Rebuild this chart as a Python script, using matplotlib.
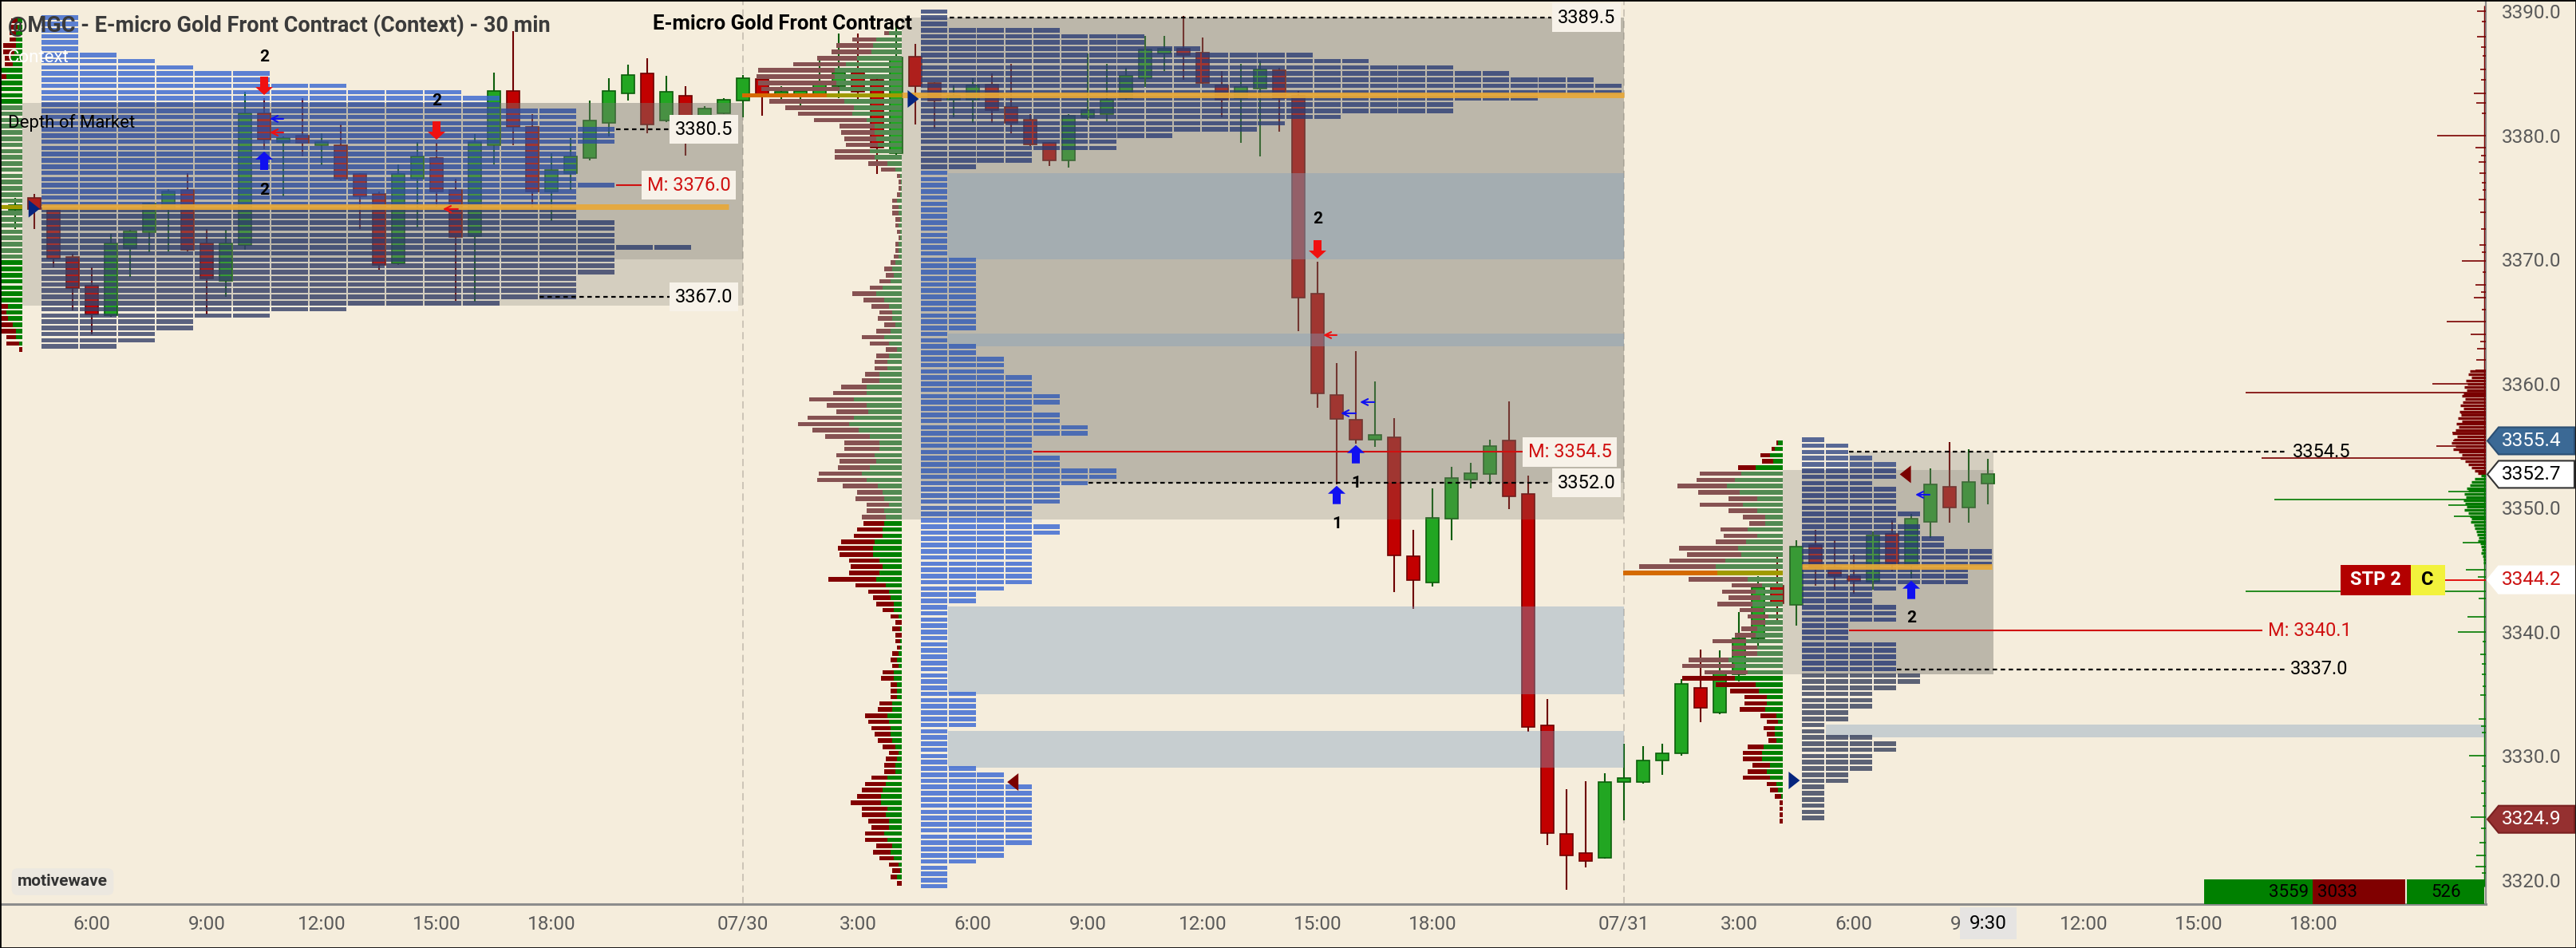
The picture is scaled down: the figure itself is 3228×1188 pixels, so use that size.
import matplotlib
matplotlib.use("Agg")
import matplotlib.pyplot as plt
from matplotlib.patches import Rectangle, Polygon

plt.rcParams["font.family"] = ["Roboto", "DejaVu Sans"]

# --------------------
# Candles (30 min bars, index 0 = 07/30 00:00)
# --------------------
bar_index = list(range(-38, 66))
opens = [3374.0, 3375.0, 3374.0, 3370.2, 3367.9, 3365.5, 3370.9, 3372.2, 3374.1, 3375.6,
         3371.3, 3368.3, 3371.2, 3381.8, 3379.5, 3380.0, 3379.2, 3379.2, 3376.9, 3375.3,
         3369.7, 3376.5, 3378.2, 3375.6, 3371.9, 3379.2, 3383.6, 3380.7, 3375.5, 3377.0,
         3378.2, 3381.0, 3383.4, 3385.0, 3381.2, 3383.2, 3381.5, 3381.8,
         3382.8, 3384.55, 3383.3, 3383.2, 3383.3, 3384.0, 3385.1, 3384.5, 3378.6, 3386.35,
         3384.27, 3382.89, 3382.89, 3384.09, 3382.32, 3381.31, 3379.44, 3378.01, 3381.45, 3381.74,
         3383.03, 3384.61, 3386.62, 3386.99, 3386.68, 3384.04, 3383.03, 3383.81, 3385.27, 3383.18,
         3367.24, 3359.12, 3357.10, 3355.47, 3355.67, 3346.12, 3344.0, 3349.15, 3352.3, 3352.7,
         3355.4, 3351.1, 3332.5, 3323.7, 3322.2, 3321.8, 3327.9, 3327.9, 3329.66, 3330.2,
         3335.5, 3333.5, 3336.6, 3339.5, 3343.7, 3342.15, 3347.0, 3345.2, 3344.5, 3344.07,
         3347.9, 3345.3, 3348.9, 3351.7, 3350.03, 3351.94]
highs = [3375.0, 3375.3, 3374.1, 3370.5, 3369.4, 3372.1, 3372.4, 3374.6, 3375.7, 3377.0,
         3372.5, 3372.4, 3383.5, 3383.0, 3379.9, 3383.0, 3380.2, 3380.9, 3377.0, 3375.5,
         3377.7, 3379.5, 3379.4, 3376.5, 3380.1, 3385.1, 3388.4, 3381.7, 3378.6, 3379.8,
         3382.8, 3384.6, 3385.7, 3386.2, 3384.8, 3384.0, 3382.4, 3383.0,
         3384.9, 3384.7, 3384.0, 3383.6, 3386.2, 3388.2, 3388.2, 3384.6, 3389.0, 3387.4,
         3384.3, 3384.04, 3384.61, 3385.04, 3385.76, 3381.74, 3379.5, 3381.74, 3386.62, 3385.76,
         3385.47, 3388.06, 3388.06, 3389.63, 3387.91, 3385.18, 3385.76, 3386.05, 3385.47, 3383.61,
         3369.83, 3361.64, 3362.65, 3360.21, 3357.2, 3348.2, 3351.6, 3353.3, 3353.6, 3355.5,
         3358.6, 3352.6, 3334.6, 3327.3, 3328.0, 3328.6, 3331.0, 3330.8, 3331.0, 3336.2,
         3338.6, 3338.5, 3341.6, 3344.5, 3346.2, 3347.4, 3348.2, 3347.4, 3346.25, 3348.07,
         3348.97, 3349.5, 3353.2, 3355.33, 3354.7, 3353.97]
lows = [3372.5, 3372.5, 3369.4, 3365.9, 3364.0, 3365.4, 3368.6, 3370.6, 3370.7, 3370.7,
        3365.6, 3367.0, 3370.8, 3378.9, 3375.1, 3378.3, 3377.6, 3376.4, 3372.5, 3369.2,
        3369.6, 3372.6, 3374.3, 3366.7, 3366.6, 3377.7, 3379.2, 3374.2, 3373.1, 3375.6,
        3378.0, 3379.9, 3382.8, 3380.2, 3381.1, 3378.4, 3381.3, 3381.7,
        3381.5, 3381.6, 3382.6, 3382.1, 3383.2, 3383.0, 3382.6, 3376.9, 3378.4, 3380.9,
        3380.6, 3381.45, 3381.02, 3381.02, 3380.16, 3379.16, 3377.58, 3377.43, 3381.31, 3381.16,
        3382.89, 3383.89, 3385.18, 3384.47, 3384.18, 3381.45, 3379.44, 3378.30, 3380.30, 3364.23,
        3358.05, 3351.88, 3355.18, 3354.89, 3343.18, 3341.86, 3343.66, 3347.4, 3351.6, 3351.9,
        3349.9, 3331.97, 3322.8, 3319.2, 3321.0, 3321.7, 3324.8, 3327.8, 3328.5, 3330.0,
        3332.7, 3333.4, 3336.0, 3338.8, 3340.9, 3340.5, 3343.7, 3343.4, 3343.1, 3343.4,
        3344.9, 3344.3, 3347.6, 3348.8, 3348.8, 3350.3]
closes = [3374.4, 3374.1, 3370.1, 3367.7, 3365.6, 3371.3, 3372.3, 3374.5, 3375.5, 3370.8,
          3368.5, 3371.3, 3381.8, 3379.7, 3379.8, 3379.4, 3379.5, 3376.5, 3375.1, 3369.6,
          3376.9, 3378.3, 3375.5, 3371.8, 3379.5, 3383.6, 3380.7, 3375.5, 3377.2, 3378.3,
          3381.2, 3383.6, 3384.9, 3380.9, 3383.5, 3381.5, 3382.2, 3382.9,
          3384.6, 3383.3, 3383.5, 3383.6, 3384.2, 3385.1, 3383.5, 3379.0, 3386.3, 3384.0,
          3382.83, 3383.18, 3384.04, 3382.03, 3381.02, 3379.30, 3378.01, 3381.59, 3382.03, 3382.89,
          3384.81, 3386.96, 3386.99, 3386.48, 3384.27, 3382.89, 3383.89, 3385.33, 3383.03, 3366.95,
          3359.20, 3357.19, 3355.47, 3355.85, 3346.19, 3344.19, 3349.2, 3352.4, 3352.8, 3355.0,
          3350.9, 3332.34, 3323.8, 3322.0, 3321.55, 3327.9, 3328.2, 3329.65, 3330.2, 3335.8,
          3333.9, 3336.65, 3339.5, 3343.6, 3342.3, 3346.9, 3345.2, 3344.5, 3344.1, 3347.8,
          3345.5, 3349.1, 3351.9, 3350.03, 3352.1, 3352.7]

# --------------------
# Volume profiles (bar length in px, green part in px), rows every 0.5
# --------------------
prof29_top = 3389.25
prof29_total = [14, 16, 16, 16, 24, 24, 22, 22, 30, 26,
                40, 42, 44, 46, 42, 40, 44, 48, 46, 44,
                42, 44, 46, 48, 46, 44, 42, 46, 48, 50,
                52, 48, 46, 44, 42, 40, 42, 44, 46, 42,
                40, 38, 40, 42, 40, 38, 40, 40, 40, 40,
                30, 20, 20, 4]
prof29_green = [6, 6, 8, 8, 8, 10, 14, 12, 26, 20,
                30, 32, 32, 34, 32, 30, 32, 34, 34, 32,
                30, 32, 34, 34, 32, 32, 30, 32, 34, 36,
                36, 34, 32, 32, 30, 30, 30, 32, 32, 30,
                30, 30, 30, 30, 30, 29, 18, 20, 18, 12,
                8, 8, 4, 0]

prof30_top = 3388.25
prof30_total = [22, 62, 82, 88, 106, 136, 180, 182, 180, 176,
                200, 166, 146, 130, 110, 78, 76, 72, 70, 84,
                84, 42, 26, 6, 4, 4, 6, 12, 12, 12,
                8, 8, 6, 4, 8, 8, 10, 14, 22, 20,
                28, 40, 62, 48, 38, 28, 30, 22, 32, 50,
                40, 20, 32, 34, 34, 46, 50, 76, 86, 116,
                94, 82, 118, 130, 112, 96, 72, 72, 82, 78,
                80, 104, 106, 74, 56, 58, 44, 44, 50, 48,
                56, 60, 76, 80, 78, 66, 64, 66, 92, 58,
                42, 36, 32, 24, 14, 8, 12, 8, 8, 6,
                12, 14, 12, 24, 26, 14, 14, 14, 28, 30,
                46, 42, 38, 34, 30, 24, 16, 20, 22, 22,
                38, 46, 50, 56, 64, 50, 50, 42, 38, 46,
                46, 32, 36, 28, 16, 12, 14, 6]
prof30_green = [16, 32, 36, 38, 56, 70, 84, 84, 82, 78,
                94, 72, 60, 62, 44, 34, 34, 32, 30, 40,
                34, 18, 8, 2, 1, 1, 2, 6, 4, 4,
                2, 4, 2, 2, 4, 4, 4, 8, 12, 10,
                14, 24, 32, 22, 16, 12, 12, 8, 14, 22,
                16, 6, 16, 18, 18, 28, 28, 44, 44, 60,
                44, 42, 60, 66, 54, 40, 28, 28, 34, 32,
                40, 50, 44, 30, 24, 22, 16, 22, 20, 22,
                24, 24, 34, 36, 36, 28, 24, 28, 32, 20,
                16, 14, 10, 10, 4, 0, 2, 0, 2, 2,
                4, 6, 4, 10, 10, 6, 6, 6, 12, 12,
                18, 16, 14, 14, 12, 8, 4, 6, 8, 8,
                18, 20, 24, 26, 26, 18, 20, 16, 16, 22,
                18, 12, 14, 10, 4, 2, 6, 0]

prof31_top = 3355.25
prof31_total = [8, 14, 28, 26, 56, 104, 108, 132, 106, 68,
                104, 68, 50, 42, 78, 74, 84, 130, 120, 142,
                180, 200, 118, 64, 76, 68, 82, 54, 44, 40,
                52, 60, 88, 64, 64, 118, 126, 98, 126, 84,
                66, 48, 48, 54, 28, 20, 24, 20, 18, 44,
                50, 50, 38, 44, 50, 20, 16, 10, 4, 4,
                4, 4]
prof31_green = [6, 10, 16, 12, 34, 52, 60, 70, 54, 32,
                50, 32, 22, 22, 44, 32, 46, 56, 52, 72,
                84, 82, 44, 26, 34, 28, 38, 24, 18, 22,
                32, 34, 46, 32, 32, 68, 60, 44, 60, 34,
                30, 20, 20, 22, 8, 6, 10, 10, 8, 24,
                26, 26, 16, 20, 16, 8, 6, 2, 0, 0,
                0, 0]

poc_prices = [3374.25, 3383.25, 3344.75]

# --------------------
# Depth of market blocks per row (number of segments), rows every 0.5
# --------------------
dom29_top = 3389.5
dom29 = [1, 1, 1, 1, 1, 1, 2, 3, 4, 6, 6, 8, 11, 12, 12, 14, 14, 14, 15, 15,
         15, 14, 14, 14, 14, 14, 14, 15, 14, 14, 14, 14, 14, 15, 15, 15, 15, 17, 15, 15,
         15, 15, 14, 14, 14, 14, 12, 8, 6, 4, 4, 3, 3, 2]
dom30_top = 3390.0
dom30 = [1, 1, 1, 5, 8, 8, 10, 14, 16, 19, 21, 24, 25, 25, 22, 19, 19, 15, 13, 12,
         9, 7, 7, 4, 4, 2, 1, 1, 1, 1, 1, 1, 1, 1, 1, 1, 1, 1, 1, 1,
         2, 2, 2, 2, 2, 2, 2, 2, 2, 2, 2, 2, 1, 1, 2, 2, 3, 3, 3, 4,
         4, 4, 5, 5, 4, 5, 5, 6, 6, 4, 4, 4, 5, 5, 7, 7, 6, 5, 5, 5,
         4, 4, 4, 5, 5, 4, 4, 4, 4, 4, 4, 4, 4, 3, 2, 2, 1, 1, 1, 1,
         1, 1, 1, 1, 1, 1, 1, 1, 1, 1, 2, 2, 2, 2, 2, 2, 1, 1, 1, 1,
         1, 1, 2, 3, 3, 4, 4, 4, 4, 4, 4, 4, 4, 4, 4, 3, 3, 2, 1, 1,
         1, 1]
dom31_top = 3355.5
dom31 = [1, 2, 2, 3, 4, 4, 4, 3, 4, 4, 4, 4, 5, 4, 5, 5, 6, 6, 8, 8,
         8, 7, 7, 7, 4, 3, 3, 4, 4, 4, 2, 2, 2, 4, 4, 4, 4, 4, 5, 5,
         4, 3, 3, 3, 2, 2, 1, 1, 3, 4, 4, 3, 3, 3, 2, 2, 1, 1, 1, 1,
         1, 1]

# --------------------
# Value area / levels
# --------------------
va_levels = [3380.5, 3367.0, 3389.5, 3352.0, 3354.5, 3337.0]
mid_levels = [3376.0, 3354.5, 3340.1]

# --------------------
# Right edge order book (price, length px)
# --------------------
ask_prices = [3390.05, 3389.2, 3388.0, 3387.1, 3386.4, 3385.3, 3384.5, 3383.4, 3382.6, 3381.8,
              3380.0, 3379.0, 3378.4, 3377.9, 3377.0, 3376.2, 3375.6, 3374.85, 3373.8, 3372.5,
              3371.2, 3370.6, 3369.9, 3369.0, 3368.0, 3367.4, 3366.95, 3366.0, 3365.0, 3364.0,
              3363.4, 3362.8, 3361.9, 3361.1, 3360.0, 3359.3, 3357.6, 3356.1, 3355.4, 3355.0, 3354.0]
ask_lens = [11, 5, 11, 6, 4, 7, 6, 15, 12, 5,
            61, 13, 6, 9, 8, 5, 4, 9, 7, 6,
            8, 5, 30, 4, 13, 6, 15, 5, 49, 19,
            7, 11, 12, 13, 67, 301, 31, 42, 41, 62, 281]
ask_cluster_p = [3361.0, 3360.75, 3360.5, 3360.25, 3360.0, 3359.75, 3359.5, 3359.25, 3359.0,
                 3358.75, 3358.5, 3358.25, 3358.0, 3357.75, 3357.5, 3357.25, 3357.0, 3356.75,
                 3356.5, 3356.25, 3356.0, 3355.75, 3355.5, 3355.25, 3355.0, 3354.75, 3354.5,
                 3354.25, 3354.0, 3353.75, 3353.5, 3353.25, 3353.0, 3352.8]
ask_cluster_w = [20, 22, 18, 25, 23, 27, 24, 28, 30, 26,
                 29, 32, 28, 33, 31, 35, 30, 37, 34, 38,
                 42, 36, 40, 43, 38, 41, 34, 30, 32, 26,
                 22, 18, 14, 10]
bid_prices = [3351.3, 3350.7, 3350.2, 3349.3, 3347.2, 3345.0, 3344.4, 3343.3, 3342.7, 3341.2,
              3340.0, 3339.2, 3338.2, 3337.4, 3336.6, 3335.6, 3334.9, 3333.0, 3332.4, 3331.9,
              3330.0, 3329.2, 3328.0, 3327.0, 3326.0, 3325.1, 3324.2, 3323.0, 3322.0, 3321.1, 3320.6]
bid_lens = [47, 265, 47, 40, 29, 25, 10, 301, 9, 23,
            35, 4, 7, 5, 5, 4, 7, 9, 6, 5,
            21, 5, 5, 6, 4, 19, 6, 8, 12, 13, 5]
bid_cluster_p = [3352.6, 3352.35, 3352.1, 3351.85, 3351.6, 3351.35, 3351.1, 3350.85, 3350.6,
                 3350.35, 3350.1, 3349.85, 3349.6, 3349.35, 3349.1, 3348.85, 3348.6, 3348.35,
                 3348.1, 3347.85, 3347.6, 3347.35, 3347.1, 3346.85, 3346.6, 3346.35, 3346.1,
                 3345.85, 3345.6]
bid_cluster_w = [6, 14, 18, 20, 24, 22, 27, 25, 28, 26,
                 24, 27, 22, 20, 18, 19, 15, 14, 12, 11,
                 9, 10, 7, 6, 5, 6, 4, 3, 3]

price_ticks = [3320, 3330, 3340, 3350, 3360, 3370, 3380, 3390]
time_ticks = [-34, -28, -22, -16, -10, 0, 6, 12, 18, 24, 30, 36, 46, 52, 58, 64, 70, 76, 82]
time_labels = ["6:00", "9:00", "12:00", "15:00", "18:00", "07/30", "3:00", "6:00", "9:00",
               "12:00", "15:00", "18:00", "07/31", "3:00", "6:00", "9:00", "12:00", "15:00", "18:00"]

last_price = 3352.7
tag_prices = [3355.4, 3352.7, 3344.2, 3324.9]
volume_boxes = ["3559", "3033", "526"]

# --------------------
# Layout (pixels of the 3228x1188 picture)
# --------------------
W, H = 3228, 1188
BG = "#F5EDDC"
PX_DAY0 = 931
BAR_PX = 24
PANE_R = 3115
PANE_B = 1133
Y0_PX = 14.4
PT_PX = 15.55


def xd(px):
    return (px - PX_DAY0) / BAR_PX


def yd(py):
    return 3390.0 - (py - Y0_PX) / PT_PX


def ypx(price):
    return Y0_PX + (3390.0 - price) * PT_PX


def fx(px):
    return px / W


def fy(py):
    return 1 - py / H


fig = plt.figure(figsize=(W / 100, H / 100), dpi=100, facecolor=BG)
ax = fig.add_axes([0, 1 - PANE_B / H, PANE_R / W, PANE_B / H])
ax.set_facecolor(BG)
ax.set_xlim(xd(0), xd(PANE_R))
ax.set_ylim(yd(PANE_B), yd(0))

# candles
for i, o, h, l, c in zip(bar_index, opens, highs, lows, closes):
    up = c >= o
    edge = "#0B5E0B" if up else "#6E0000"
    face = "#22A622" if up else "#C20000"
    ax.vlines(i, l, h, color=edge, lw=1.5, zorder=2)
    ax.add_patch(Rectangle((i - 0.345, min(o, c)), 0.69, max(abs(c - o), 0.08),
                           facecolor=face, edgecolor=edge, lw=1.2, zorder=2.1))


# value area boxes and bands
def shade(x0, x1, p0, p1, color="#78786E", alpha=0.26, z=3):
    ax.add_patch(Rectangle((xd(x0), p0), (x1 - x0) / BAR_PX, p1 - p0,
                           facecolor=color, alpha=alpha, lw=0, zorder=z))


shade(28, 931, 3366.3, 3382.6)
shade(52, 931, 3370.0, 3382.6)
shade(1130, 2035, 3349.06, 3389.5)
shade(1154, 2035, 3352.0, 3389.5)
shade(2234, 2498, 3336.57, 3353.06)
shade(2258, 2498, 3336.57, 3353.06)
shade(2317, 2498, 3353.06, 3354.5)
band = "#82A0BE"
shade(1188, 2035, 3370.0, 3377.0, band, 0.4)
shade(1188, 2035, 3363.0, 3364.05, band, 0.4)
shade(1188, 2035, 3335.0, 3342.05, band, 0.4)
shade(1188, 2035, 3329.06, 3332.0, band, 0.4)
shade(2288, 3113, 3331.5, 3332.55, band, 0.4)


# depth of market blocks
def draw_dom(x0, stride, seg_w, top, counts, color_of):
    for r, n in enumerate(counts):
        p = top - 0.5 * r
        segs = [(xd(x0 + k * stride), (seg_w) / BAR_PX) for k in range(n)]
        ax.broken_barh(segs, (p - 0.18, 0.36), facecolors=color_of(p),
                       alpha=0.8, lw=0, zorder=4)


def dom29_color(p):
    if p > 3382.6:
        return "#3665D0"
    if p > 3374.25:
        return "#2D4C9E"
    if p >= 3370.0:
        return "#2B3B6B"
    return "#343F68"


def dom30_color(p):
    if p >= 3377.5:
        return "#2B3D75"
    if p >= 3349.06:
        return "#3059B6"
    return "#3665D2"


def dom31_color(p):
    if p > 3353.06:
        return "#314784"
    if p >= 3336.57:
        return "#263875"
    return "#363F5C"


draw_dom(52, 48, 46, dom29_top, dom29, dom29_color)
draw_dom(1154, 35.2, 33.3, dom30_top, dom30, dom30_color)
draw_dom(2258, 30, 28, dom31_top, dom31, dom31_color)


# volume profiles
def draw_profile(right, top, totals, greens, va_lo, va_hi, poc):
    ps, red_l, red_w, grn_l, grn_w, rc, gc = [], [], [], [], [], [], []
    for k, (t, g) in enumerate(zip(totals, greens)):
        p = top - 0.5 * k
        ps.append(p)
        red_l.append(xd(right - t))
        red_w.append((t - g) / BAR_PX)
        grn_l.append(xd(right - g))
        grn_w.append(g / BAR_PX)
        if abs(p - poc) < 0.01:
            rc.append("#D46A00")
            gc.append("#A09A00")
        elif va_lo <= p <= va_hi:
            rc.append("#865252")
            gc.append("#528A52")
        else:
            rc.append("#820000")
            gc.append("#008000")
    ax.barh(ps, red_w, left=red_l, height=0.36, color=rc, lw=0, zorder=4.5)
    ax.barh(ps, grn_w, left=grn_l, height=0.36, color=gc, lw=0, zorder=4.5)


draw_profile(28, prof29_top, prof29_total, prof29_green, 3370.0, 3382.6, poc_prices[0])
draw_profile(1130, prof30_top, prof30_total, prof30_green, 3349.06, 3389.5, poc_prices[1])
draw_profile(2234, prof31_top, prof31_total, prof31_green, 3336.57, 3353.06, poc_prices[2])

# POC lines
ax.hlines(poc_prices[0], xd(52), xd(913), color="#E8A838", lw=5, alpha=0.92, zorder=5)
ax.hlines(poc_prices[1], xd(1130), xd(2035), color="#E8A838", lw=5, alpha=0.92, zorder=5)
ax.hlines(poc_prices[2] + 0.5, xd(2258), xd(2496), color="#E8A838", lw=5, alpha=0.92, zorder=5)

# value area high / low dashed lines with labels
dash_spans = [(772, 839), (676, 839), (1190, 1944), (1364, 1944), (2317, 2865), (2377, 2865)]
label_x = [846, 846, 1952, 1952, 2873, 2870]
boxed = [True, True, True, True, False, False]
for p, (x0, x1), lx, bx in zip(va_levels, dash_spans, label_x, boxed):
    ax.hlines(p, xd(x0), xd(x1), color="black", lw=1.6, linestyles=(0, (2.5, 2)), zorder=5)
    kw = dict(fontsize=17, color="black", va="center", ha="left", zorder=7)
    if bx:
        kw["bbox"] = dict(boxstyle="square,pad=0.28", fc="#F7F2E9", ec="none")
    ax.text(xd(lx), p, f"{p:.1f}", **kw)

mid_spans = [(772, 807), (1295, 1911), (2317, 2835)]
mid_x = [811, 1915, 2842]
mid_boxed = [True, True, False]
for p, (x0, x1), lx, bx in zip(mid_levels, mid_spans, mid_x, mid_boxed):
    ax.hlines(p, xd(x0), xd(x1), color="#D01010", lw=1.5, zorder=5)
    kw = dict(fontsize=17, color="#D01010", va="center", ha="left", zorder=7)
    if bx:
        kw["bbox"] = dict(boxstyle="square,pad=0.28", fc="#F7F2E9", ec="none")
    ax.text(xd(lx), p, f"M: {p:.1f}", **kw)


# signal arrows
def block_arrow(idx, tip, up, color):
    pts_px = [(0, 0), (11, 10), (5, 10), (5, 23), (-5, 23), (-5, 10), (-11, 10)]
    s = 1 if up else -1
    pts = [(idx + dx / BAR_PX, tip - s * dy / PT_PX) for dx, dy in pts_px]
    ax.add_patch(Polygon(pts, closed=True, fc=color, ec="none", zorder=6))


for idx, tip in [(-25, 3383.27), (-16, 3379.67), (30, 3370.09)]:
    block_arrow(idx, tip, False, "#F01010")
for idx, tip in [(-25, 3378.71), (32, 3355.06), (31, 3351.78), (61, 3344.13)]:
    block_arrow(idx, tip, True, "#1010F0")

for idx, p, s in [(-25, 3386.3, "2"), (-25, 3375.6, "2"), (-16, 3382.8, "2"), (30, 3373.3, "2"),
                  (32, 3351.96, "1"), (31, 3348.7, "1"), (61, 3341.1, "2")]:
    ax.text(idx, p, s, fontsize=15, fontweight="bold", color="black",
            ha="center", va="center", zorder=6)

for x_from, x_to, p, col in [(-24.0, -24.71, 3381.35, "#1010F0"), (-24.0, -24.71, 3380.25, "#F01010"),
                             (-14.88, -15.67, 3374.08, "#F01010"), (31.0, 30.29, 3363.92, "#F01010"),
                             (32.96, 32.21, 3358.52, "#1010F0"), (32.0, 31.21, 3357.62, "#1010F0"),
                             (61.96, 61.21, 3351.06, "#1010F0")]:
    ax.annotate("", xy=(x_to, p), xytext=(x_from, p), zorder=6,
                arrowprops=dict(arrowstyle="->", color=col, lw=1.5, mutation_scale=14,
                                shrinkA=0, shrinkB=0))


def triangle(left_idx, p, right, color):
    w = 14 / BAR_PX
    h = 11 / PT_PX
    if right:
        pts = [(left_idx, p + h), (left_idx, p - h), (left_idx + w, p)]
    else:
        pts = [(left_idx + w, p + h), (left_idx + w, p - h), (left_idx, p)]
    ax.add_patch(Polygon(pts, closed=True, fc=color, ec="none", zorder=6))


triangle(-37.3, 3374.1, True, "#06257E")
triangle(8.6, 3382.95, True, "#06257E")
triangle(54.6, 3328.03, True, "#06257E")
triangle(13.8, 3327.9, False, "#7A0000")
triangle(60.4, last_price, False, "#7A0000")

# right edge order book
ax.hlines(ask_prices, [xd(PANE_R - v) for v in ask_lens], xd(PANE_R), color="#7A0000", lw=1.2, zorder=4)
ax.hlines(bid_prices, [xd(PANE_R - v) for v in bid_lens], xd(PANE_R), color="#007A00", lw=1.2, zorder=4)
ax.hlines(ask_cluster_p, [xd(PANE_R - v) for v in ask_cluster_w], xd(PANE_R),
          color="#7A0000", lw=2.4, zorder=4)
ax.hlines(bid_cluster_p, [xd(PANE_R - v) for v in bid_cluster_w], xd(PANE_R),
          color="#007A00", lw=2.4, zorder=4)
ax.vlines(xd(PANE_R - 2), 3352.8, 3390.5, color="#7A0000", lw=1.0, zorder=4)
ax.vlines(xd(PANE_R - 2), 3319.5, 3352.6, color="#007A00", lw=1.0, zorder=4)
ax.hlines(tag_prices[2], xd(3064), xd(PANE_R), color="#E00000", lw=1.3, zorder=5)

# day separators
for d in [0, 46]:
    ax.axvline(d, color="#C9C1B4", lw=1.3, linestyle=(0, (5, 3)), zorder=1)

# axes styling
for side in ["top", "left"]:
    ax.spines[side].set_visible(False)
ax.spines["right"].set_color("#8C8C8C")
ax.spines["right"].set_linewidth(1.6)
ax.spines["bottom"].set_color("#8C8C8C")
ax.spines["bottom"].set_linewidth(2.2)
ax.yaxis.tick_right()
ax.set_yticks(price_ticks)
ax.set_yticklabels([f"{v:.1f}" for v in price_ticks])
ax.tick_params(axis="y", length=0, pad=14, labelsize=17.5, labelcolor="#5A5A5A")
ax.set_xticks(time_ticks)
ax.set_xticklabels(time_labels)
ax.tick_params(axis="x", length=0, pad=10, labelsize=17.5, labelcolor="#5A5A5A")


# figure level overlays
def fig_rect(x0, y0, x1, y1, fc, ec="none", z=6):
    fig.add_artist(Rectangle((fx(x0), fy(y1)), (x1 - x0) / W, (y1 - y0) / H,
                             transform=fig.transFigure, fc=fc, ec=ec, zorder=z))


def price_tag(price, fc, ec, tc):
    yc = ypx(price)
    pts = [(3117, yc), (3131, yc - 17), (3226, yc - 17), (3226, yc + 17), (3131, yc + 17)]
    fig.add_artist(Polygon([(fx(x), fy(y)) for x, y in pts], closed=True,
                           transform=fig.transFigure, fc=fc, ec=ec, lw=1.5, zorder=6))
    fig.text(fx(3135), fy(yc), f"{price:.1f}", fontsize=17.5, color=tc,
             va="center", ha="left", zorder=7)


price_tag(tag_prices[0], "#3B6995", "#2C4F73", "white")
price_tag(tag_prices[1], "white", "#333333", "black")
price_tag(tag_prices[2], "white", "white", "#CC1010")
price_tag(tag_prices[3], "#953030", "#7A2020", "white")

# stop / C boxes
y_stp = ypx(tag_prices[2])
fig_rect(2933, y_stp - 19, 3021, y_stp + 19, "#B30000")
fig_rect(3021, y_stp - 19, 3064, y_stp + 19, "#F2F23C")
fig.text(fx(2977), fy(y_stp), "STP 2", fontsize=17, fontweight="bold", color="white",
         ha="center", va="center", zorder=7)
fig.text(fx(3042), fy(y_stp), "C", fontsize=17, fontweight="bold", color="black",
         ha="center", va="center", zorder=7)

# volume summary boxes
fig_rect(2762, 1102, 2898, 1133, "#008000")
fig_rect(2898, 1102, 3014, 1133, "#800000")
fig_rect(3016, 1102, 3113, 1133, "#008000")
fig.text(fx(2893), fy(1118), volume_boxes[0], fontsize=16, color="black", ha="right", va="center", zorder=7)
fig.text(fx(2904), fy(1118), volume_boxes[1], fontsize=16, color="black", ha="left", va="center", zorder=7)
fig.text(fx(3065), fy(1118), volume_boxes[2], fontsize=16, color="black", ha="center", va="center", zorder=7)

# current bar time
fig_rect(2456, 1137, 2527, 1177, "#E6E4E2", z=8)
fig.text(fx(2491), fy(1157), "9:30", fontsize=17.5, color="black", ha="center", va="center", zorder=9)

# titles and labels
fig.text(fx(10), fy(32), "@MGC - E-micro Gold Front Contract (Context) - 30 min", fontsize=19.5,
         fontweight="bold", color="#3B3B3B", ha="left", va="center", zorder=9)
fig.text(fx(818), fy(30), "E-micro Gold Front Contract", fontsize=18.5, fontweight="bold",
         color="black", ha="left", va="center", zorder=9)
fig.text(fx(10), fy(72), "Context", fontsize=16, color="white", ha="left", va="center", zorder=9)
fig.text(fx(10), fy(154), "Depth of Market", fontsize=16, color="black", ha="left", va="center", zorder=9)
fig.text(fx(22), fy(1105), "motivewave", fontsize=15, fontweight="bold", color="#333333",
         ha="left", va="center", zorder=9,
         bbox=dict(boxstyle="round,pad=0.35", fc="#ECE8E0", ec="none"))

fig.add_artist(Rectangle((0, 0), 1, 1, transform=fig.transFigure, fill=False,
                         ec="black", lw=2, zorder=10))

fig.savefig("out.png", dpi=100, facecolor=BG)
